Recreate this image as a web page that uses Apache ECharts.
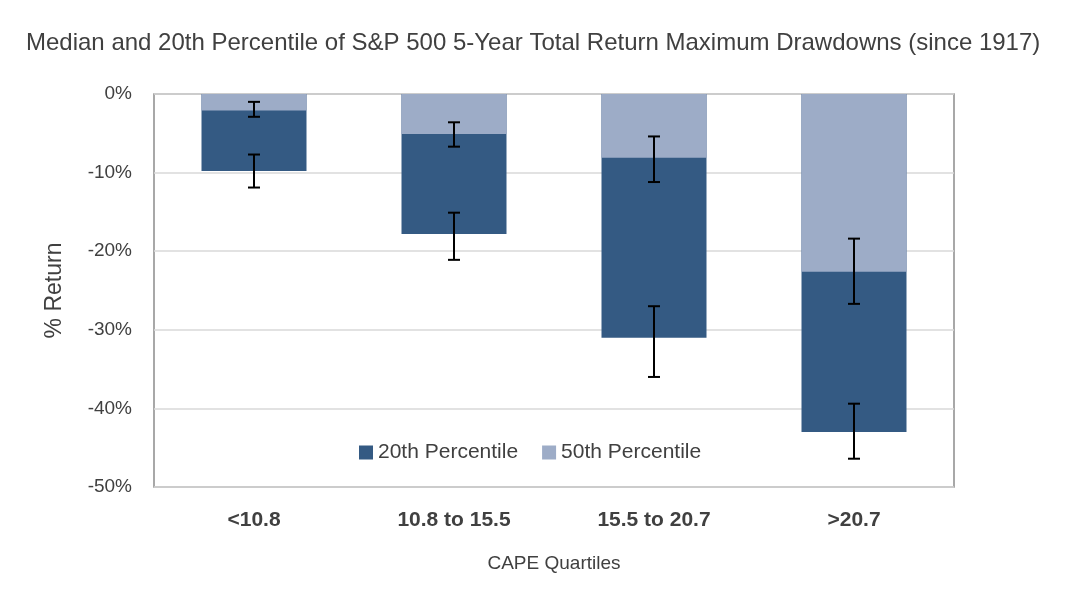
<!DOCTYPE html>
<html>
<head>
<meta charset="utf-8">
<script src="https://cdn.jsdelivr.net/npm/echarts@6/dist/echarts.min.js"></script>
<style>
html,body{margin:0;padding:0;background:#fff;}
#chart{width:1080px;height:591px;}
</style>
</head>
<body>
<div id="chart"></div>
<script>
const categories = ['<10.8', '10.8 to 15.5', '15.5 to 20.7', '>20.7'];
const p20Values = [-9.8, -17.8, -31.0, -43.0];
const p50Values = [-2.1, -5.1, -8.1, -22.6];
const p20ErrLow = [-11.9, -21.1, -36.0, -46.4];
const p20ErrHigh = [-7.7, -15.1, -27.0, -39.4];
const p50ErrLow = [-2.9, -6.7, -11.2, -26.7];
const p50ErrHigh = [-1.0, -3.6, -5.4, -18.4];
const yTicks = [0, -10, -20, -30, -40, -50];

const FONT = 'Liberation Sans, Arial, sans-serif';

function errData(lo, hi) {
  return categories.map((c, i) => [i, lo[i], hi[i]]);
}

function renderErr(params, api) {
  const x = api.value(0);
  const lo = api.coord([x, api.value(1)]);
  const hi = api.coord([x, api.value(2)]);
  const half = 6;
  const style = { stroke: '#000', lineWidth: 2 };
  return {
    type: 'group',
    children: [
      { type: 'line', shape: { x1: lo[0], y1: lo[1], x2: hi[0], y2: hi[1] }, style },
      { type: 'line', shape: { x1: lo[0] - half, y1: lo[1], x2: lo[0] + half, y2: lo[1] }, style },
      { type: 'line', shape: { x1: hi[0] - half, y1: hi[1], x2: hi[0] + half, y2: hi[1] }, style }
    ]
  };
}

const chart = echarts.init(document.getElementById('chart'));
chart.setOption({
  animation: false,
  textStyle: { fontFamily: FONT },
  title: {
    text: 'Median and 20th Percentile of S&P 500 5-Year Total Return Maximum Drawdowns (since 1917)',
    left: 21, top: 26,
    textStyle: { fontFamily: FONT, fontSize: 24, fontWeight: 'normal', color: '#404040' }
  },
  legend: {
    data: ['20th Percentile', '50th Percentile'],
    left: 354, top: 437,
    itemWidth: 14, itemHeight: 14, itemGap: 24,
    icon: 'rect',
    textStyle: { fontFamily: FONT, fontSize: 21, color: '#404040' }
  },
  grid: {
    left: 154, right: 126, top: 94, bottom: 104,
    show: true, borderColor: '#8c8c8c', borderWidth: 1.5
  },
  xAxis: {
    type: 'category',
    data: categories,
    axisLine: { show: false },
    axisTick: { show: false },
    axisLabel: { fontFamily: FONT, fontSize: 21, fontWeight: 'bold', color: '#404040', margin: 23 },
    name: 'CAPE Quartiles',
    nameLocation: 'middle',
    nameGap: 67,
    nameTextStyle: { fontFamily: FONT, fontSize: 19, color: '#404040' }
  },
  yAxis: {
    type: 'value',
    min: -50, max: 0, interval: 10,
    axisLine: { show: false },
    axisTick: { show: false },
    axisLabel: { fontFamily: FONT, fontSize: 19, color: '#404040', margin: 22, formatter: v => v + '%' },
    splitLine: { lineStyle: { color: '#d9d9d9', width: 1.5 } },
    name: '% Return',
    nameLocation: 'middle',
    nameGap: 88,
    nameTextStyle: { fontFamily: FONT, fontSize: 23, color: '#404040' }
  },
  series: [
    {
      name: '20th Percentile', type: 'bar', data: p20Values,
      barWidth: '52.5%', barGap: '-100%',
      itemStyle: { color: '#345a83' }
    },
    {
      name: '50th Percentile', type: 'bar', data: p50Values,
      barWidth: '52.5%', barGap: '-100%',
      itemStyle: { color: '#9dacc7' }
    },
    {
      name: 'err20', type: 'custom', renderItem: renderErr,
      data: errData(p20ErrLow, p20ErrHigh), encode: { x: 0, y: [1, 2] }, z: 10
    },
    {
      name: 'err50', type: 'custom', renderItem: renderErr,
      data: errData(p50ErrLow, p50ErrHigh), encode: { x: 0, y: [1, 2] }, z: 10
    }
  ]
});
</script>
</body>
</html>
